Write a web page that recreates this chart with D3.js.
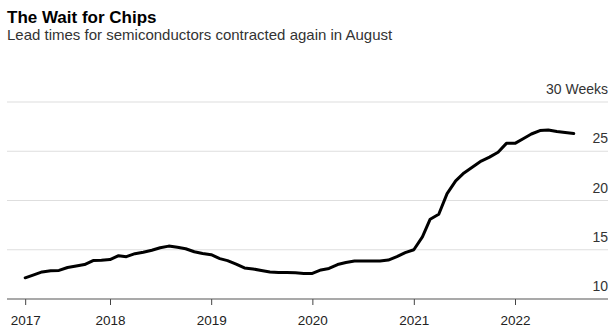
<!DOCTYPE html>
<html>
<head>
  <meta charset="utf-8">
  <script src="https://d3js.org/d3.v7.min.js"></script>
  <style>
    body { margin: 0; background: #fff; }
    text { font-family: "Liberation Sans", Arial, sans-serif; }
  </style>
</head>
<body>
<script type="text/javascript">

// Lead times (weeks), monthly, Mar 2017 - Aug 2022
var startMonth = "2017-03";
var leadWeeks = [
  12.15, 12.45, 12.75, 12.87, 12.9, 13.2, 13.35, 13.5, 13.9, 13.93,   // 2017
  14.0, 14.4, 14.3, 14.6, 14.75, 14.95, 15.2, 15.37, 15.25, 15.1, 14.8, 14.62, // 2018
  14.5, 14.1, 13.9, 13.55, 13.15, 13.05, 12.9, 12.75, 12.7, 12.7, 12.66, 12.6, // 2019
  12.6, 12.95, 13.1, 13.5, 13.7, 13.85, 13.85, 13.85, 13.85, 13.95, 14.3, 14.7, // 2020
  15.0, 16.3, 18.1, 18.6, 20.7, 22.0, 22.8, 23.4, 24.0, 24.4, 24.9, 25.8, // 2021
  25.8, 26.3, 26.75, 27.1, 27.15, 27.0, 26.9, 26.8 // 2022
];
var yearTicks = ["2017", "2018", "2019", "2020", "2021", "2022"];
var yTicks = [10, 15, 20, 25, 30];

var parseMonth = d3.timeParse("%Y-%m");
var t0 = parseMonth(startMonth);
var data = leadWeeks.map(function(v, i) {
  return { date: d3.timeMonth.offset(t0, i), value: v };
});

var width = 612, height = 332;
var left = 7, right = 608;

var svg = d3.select("body").append("svg")
    .attr("width", width)
    .attr("height", height);

// title
svg.append("text")
    .attr("x", 7).attr("y", 23)
    .style("font-size", "17px")
    .style("font-weight", "bold")
    .style("fill", "#000")
    .text("The Wait for Chips");

svg.append("text")
    .attr("x", 7).attr("y", 40)
    .style("font-size", "15px")
    .style("fill", "#333")
    .text("Lead times for semiconductors contracted again in August");

var x = d3.scaleTime()
    .domain([new Date(2018, 0, 1), new Date(2022, 0, 1)])
    .range([110, 515]);

var y = d3.scaleLinear()
    .domain([10, 30])
    .range([299, 102]);

// gridlines
svg.append("g")
    .selectAll("line")
    .data(yTicks.slice(1))
    .enter().append("line")
    .attr("x1", left).attr("x2", right)
    .attr("y1", function(d) { return y(d); })
    .attr("y2", function(d) { return y(d); })
    .style("stroke", "#dedede")
    .style("stroke-width", 1.2);

// y labels (right, above gridlines)
svg.append("g")
    .selectAll("text")
    .data(yTicks)
    .enter().append("text")
    .attr("x", right)
    .attr("y", function(d) { return y(d) - 8; })
    .style("text-anchor", "end")
    .style("font-size", "14px")
    .style("fill", "#333")
    .text(function(d) { return d === 30 ? "30 Weeks" : d; });

// x axis: first tick sits on the first data point
var tickDates = yearTicks.map(function(s, i) {
  return i === 0 ? t0 : new Date(+s, 0, 1);
});
var xAxis = svg.append("g")
    .attr("transform", "translate(0," + y(10) + ")")
    .call(d3.axisBottom(x)
        .tickValues(tickDates)
        .tickSize(6)
        .tickPadding(10)
        .tickFormat(function(d, i) { return yearTicks[i]; }));
xAxis.select(".domain").remove();
xAxis.selectAll(".tick line").style("stroke", "#444");
xAxis.selectAll(".tick text")
    .style("font-size", "13.5px")
    .style("fill", "#222")
    .style("font-family", "'Liberation Sans', Arial, sans-serif");

// baseline
svg.append("line")
    .attr("x1", left).attr("x2", right)
    .attr("y1", y(10)).attr("y2", y(10))
    .style("stroke", "#555")
    .style("stroke-width", 1.2);

// the line
var line = d3.line()
    .x(function(d) { return x(d.date); })
    .y(function(d) { return y(d.value); });

svg.append("path")
    .datum(data)
    .attr("d", line)
    .style("fill", "none")
    .style("stroke", "#000")
    .style("stroke-width", 3)
    .style("stroke-linejoin", "round")
    .style("stroke-linecap", "round");

</script>
</body>
</html>
